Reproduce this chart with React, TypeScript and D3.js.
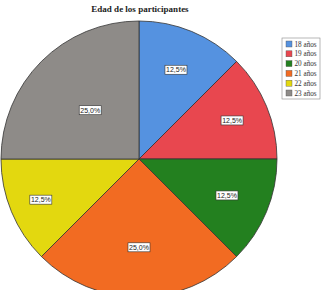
import React from "react";
import * as d3 from "d3";

const categories = ["18 años", "19 años", "20 años", "21 años", "22 años", "23 años"];
const percents = [12.5, 12.5, 12.5, 25.0, 12.5, 25.0];
const colors = ["#5592e0", "#e8474f", "#23801f", "#f26b22", "#e3d80f", "#8e8b88"];
const title = "Edad de los participantes";

export default function App() {
  const W = 326, H = 290;
  const cx = 139, cy = 159, r = 138;
  const pie = d3.pie<number>().sort(null).value((d) => d);
  const arcs = pie(percents);
  const arc = d3.arc<d3.PieArcDatum<number>>().innerRadius(0).outerRadius(r);
  const labelFactor = [0.7, 0.73, 0.69, 0.64, 0.77, 0.5];
  return (
    <svg width={W} height={H} style={{ position: "absolute", left: 0, top: 0, background: "#fff" }}>
      <text x={140} y={12} textAnchor="middle" fontFamily="Liberation Serif" fontWeight="bold" fontSize={9} fill="#222">
        {title}
      </text>
      <g transform={`translate(${cx},${cy})`}>
        {arcs.map((a, i) => (
          <path key={i} d={arc(a) || ""} fill={colors[i]} stroke="#333" strokeWidth={0.8} />
        ))}
        {arcs.map((a, i) => {
          const mid = (a.startAngle + a.endAngle) / 2;
          const rr = r * labelFactor[i];
          const x = Math.sin(mid) * rr;
          const y = -Math.cos(mid) * rr;
          const txt = percents[i].toFixed(1).replace(".", ",") + "%";
          const w = 22, h = 9;
          return (
            <g key={"l" + i} transform={`translate(${x},${y})`}>
              <rect x={-w / 2} y={-h / 2} width={w} height={h} fill="#fff" stroke="#333" strokeWidth={0.6} />
              <text x={0} y={2.5} textAnchor="middle" fontFamily="Liberation Sans" fontSize={7} fill="#222">
                {txt}
              </text>
            </g>
          );
        })}
      </g>
      <rect x={282} y={38} width={38} height={61} fill="#fff" stroke="#888" strokeWidth={0.6} />
      {categories.map((c, i) => (
        <g key={c} transform={`translate(286,${41 + i * 9.8})`}>
          <rect x={0} y={0} width={6} height={6} fill={colors[i]} stroke="#555" strokeWidth={0.4} />
          <text x={8.5} y={5.5} fontFamily="Liberation Serif" fontSize={7.2} fill="#333">
            {c}
          </text>
        </g>
      ))}
    </svg>
  );
}
